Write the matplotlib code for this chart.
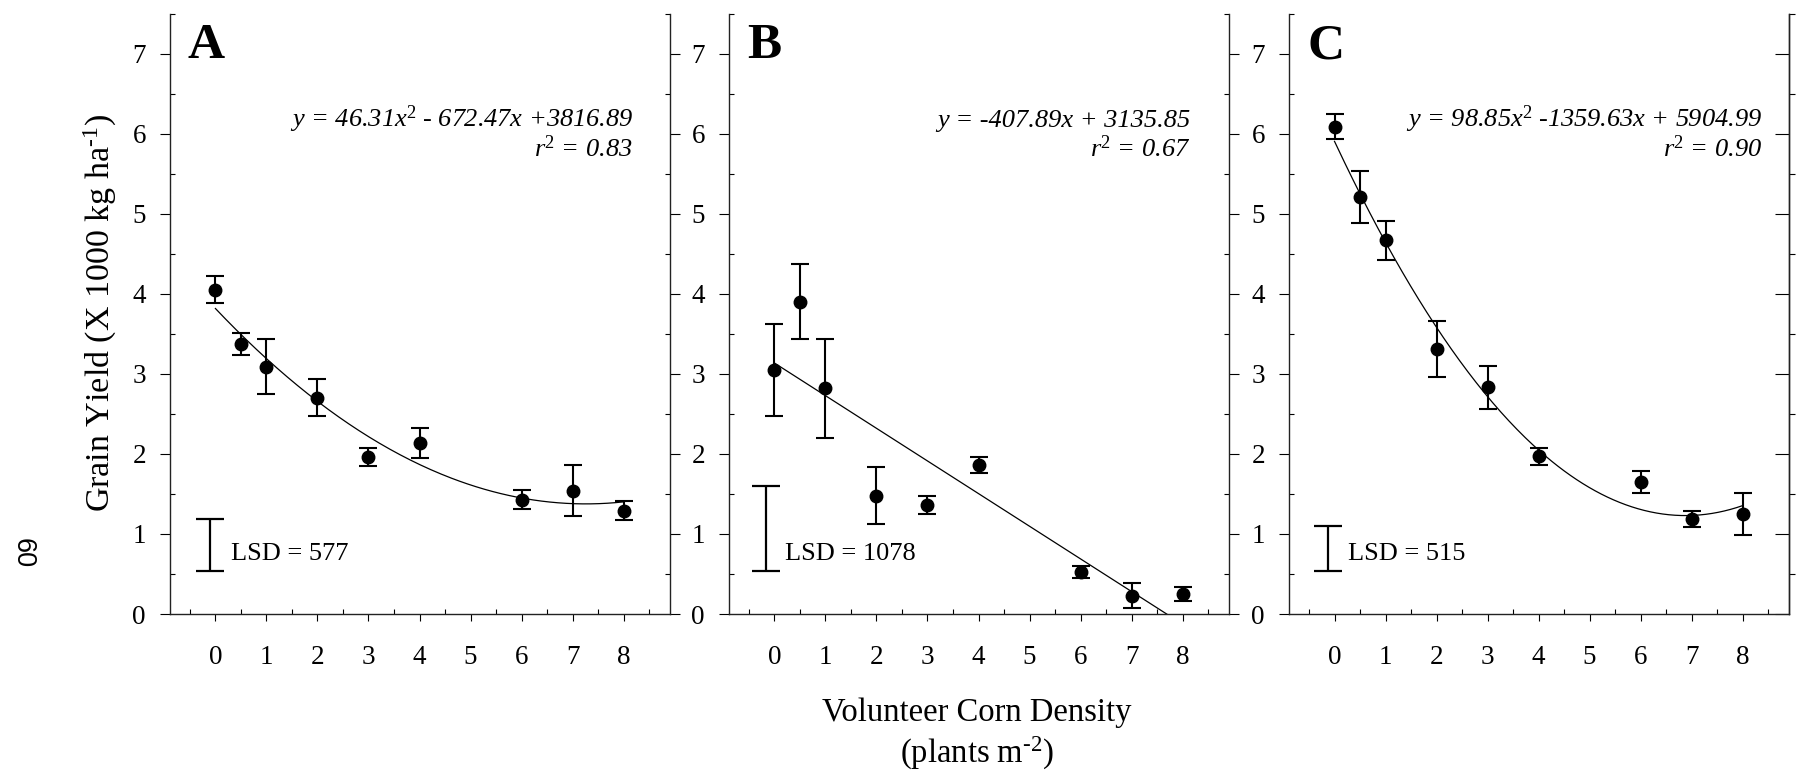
import numpy as np
import matplotlib
matplotlib.use('Agg')
import matplotlib.pyplot as plt
from matplotlib.ticker import MultipleLocator

# --- data (grain yield, x 1000 kg/ha) ---
density = [0, 0.5, 1, 2, 3, 4, 6, 7, 8]
yield_a = [4.05, 3.37, 3.09, 2.70, 1.96, 2.14, 1.43, 1.54, 1.29]
err_a = [0.17, 0.14, 0.34, 0.23, 0.11, 0.19, 0.12, 0.32, 0.12]
yield_b = [3.05, 3.90, 2.82, 1.48, 1.36, 1.86, 0.52, 0.23, 0.25]
err_b = [0.57, 0.47, 0.62, 0.36, 0.11, 0.10, 0.075, 0.16, 0.09]
yield_c = [6.09, 5.21, 4.67, 3.31, 2.83, 1.97, 1.65, 1.19, 1.25]
err_c = [0.16, 0.33, 0.245, 0.35, 0.265, 0.105, 0.14, 0.10, 0.265]

# regression coefficients (kg/ha) printed on each panel
coef_a = [46.31, -672.47, 3816.89]
coef_b = [0.0, -407.89, 3135.85]
coef_c = [98.85, -1359.63, 5904.99]

panel_labels = ['A', 'B', 'C']
eq_texts = [r'y = 46.31x$^{\mathit{2}}$ - 672.47x +3816.89',
            r'y = -407.89x + 3135.85',
            r'y = 98.85x$^{\mathit{2}}$ -1359.63x + 5904.99']
r2_texts = [r'r$^{\mathit{2}}$ = 0.83', r'r$^{\mathit{2}}$ = 0.67', r'r$^{\mathit{2}}$ = 0.90']
eq_right = [0.927, 0.923, 0.947]

lsd_texts = ['LSD = 577', 'LSD = 1078', 'LSD = 515']
lsd_x = [-0.1, -0.17, -0.12]
lsd_low = [0.54, 0.54, 0.54]
lsd_high = [1.19, 1.60, 1.10]
lsd_text_x = [0.30, 0.20, 0.27]

plt.rcParams['font.family'] = ['Liberation Serif', 'DejaVu Serif']
plt.rcParams['mathtext.fontset'] = 'custom'
plt.rcParams['mathtext.rm'] = 'Liberation Serif'
plt.rcParams['mathtext.it'] = 'Liberation Serif:italic'
plt.rcParams['mathtext.default'] = 'regular'

W, H = 1796, 772
fig = plt.figure(figsize=(W / 100, H / 100), dpi=100)

lefts = [169.5, 728.5, 1288.6]
ax_w = 500
ax_bot, ax_top = 614, 13.7

ys = [yield_a, yield_b, yield_c]
es = [err_a, err_b, err_c]
coefs = [coef_a, coef_b, coef_c]

for i in range(3):
    ax = fig.add_axes([lefts[i] / W, (H - ax_bot) / H, ax_w / W, (ax_bot - ax_top) / H])
    ax.set_xlim(-0.9, 8.9)
    ax.set_ylim(0, 7.5)

    ax.spines['top'].set_visible(False)
    for s in ['left', 'right', 'bottom']:
        ax.spines[s].set_linewidth(1.0)
        ax.spines[s].set_color('#222222')

    ax.set_xticks(range(9))
    ax.set_xticks(np.arange(-0.5, 9, 1.0), minor=True)
    ax.set_yticks(range(8))
    ax.yaxis.set_minor_locator(MultipleLocator(0.5))

    right_on = i < 2
    ax.tick_params(axis='y', which='major', direction='out', length=7, width=0.8,
                   left=True, right=right_on, labelsize=19.5, pad=10)
    ax.tick_params(axis='y', which='minor', direction='in', length=3.6, width=0.8,
                   left=True, right=right_on)
    ax.tick_params(axis='x', which='major', direction='out', length=5, width=0.8,
                   labelsize=19.5, pad=17.5)
    ax.tick_params(axis='x', which='minor', direction='in', length=3.5, width=0.8)

    if not right_on:
        # right axis of the last panel has its tick directions reversed
        sec = ax.secondary_yaxis('right')
        sec.set_yticks(range(8))
        sec.yaxis.set_minor_locator(MultipleLocator(0.5))
        sec.tick_params(which='major', direction='in', length=10, width=0.8, labelright=False)
        sec.tick_params(which='minor', direction='out', length=4, width=0.8)
        sec.spines['right'].set_linewidth(1.0)
        sec.spines['right'].set_color('#222222')

    # fitted curve
    xf = np.linspace(0, 8, 200)
    ax.plot(xf, np.polyval(coefs[i], xf) / 1000.0, color='black', lw=0.9, zorder=2)

    # means with error bars
    ax.errorbar(density, ys[i], yerr=es[i], fmt='o', color='black', ms=9,
                elinewidth=1.5, capsize=6.2, capthick=1.5, zorder=3)

    # LSD bar
    mid = (lsd_low[i] + lsd_high[i]) / 2
    ax.errorbar([lsd_x[i]], [mid], yerr=[(lsd_high[i] - lsd_low[i]) / 2], fmt='none',
                ecolor='black', elinewidth=1.6, capsize=10, capthick=1.6)
    ax.text(lsd_text_x[i], 0.675, lsd_texts[i], fontsize=19, ha='left', va='baseline')

    ax.text(0.037, 0.926, panel_labels[i], transform=ax.transAxes, fontsize=37,
            fontweight='bold', ha='left', va='baseline')

    ax.text(eq_right[i], 6.09 / 7.5, eq_texts[i], transform=ax.transAxes,
            fontsize=19, style='italic', ha='right', va='baseline')
    ax.text(eq_right[i], 5.71 / 7.5, r2_texts[i], transform=ax.transAxes,
            fontsize=19, style='italic', ha='right', va='baseline')

fig.text(100 / W, 1 - 313 / H, 'Grain Yield (X 1000 kg ha$^{\u2010 1}$)', rotation=90,
         fontsize=24.5, ha='center', va='center')
fig.text(977 / W, 1 - 721 / H, 'Volunteer Corn Density', fontsize=23.5,
         ha='center', va='baseline')
fig.text(977 / W, 1 - 763 / H, '(plants m$^{\u2010 2}$)', fontsize=23.5,
         ha='center', va='baseline')
fig.text(23 / W, 1 - 553 / H, '60', rotation=-90, fontsize=19.5,
         family=['Liberation Sans', 'DejaVu Sans'], ha='center', va='center')

fig.savefig('out.png', dpi=100, facecolor='white')
